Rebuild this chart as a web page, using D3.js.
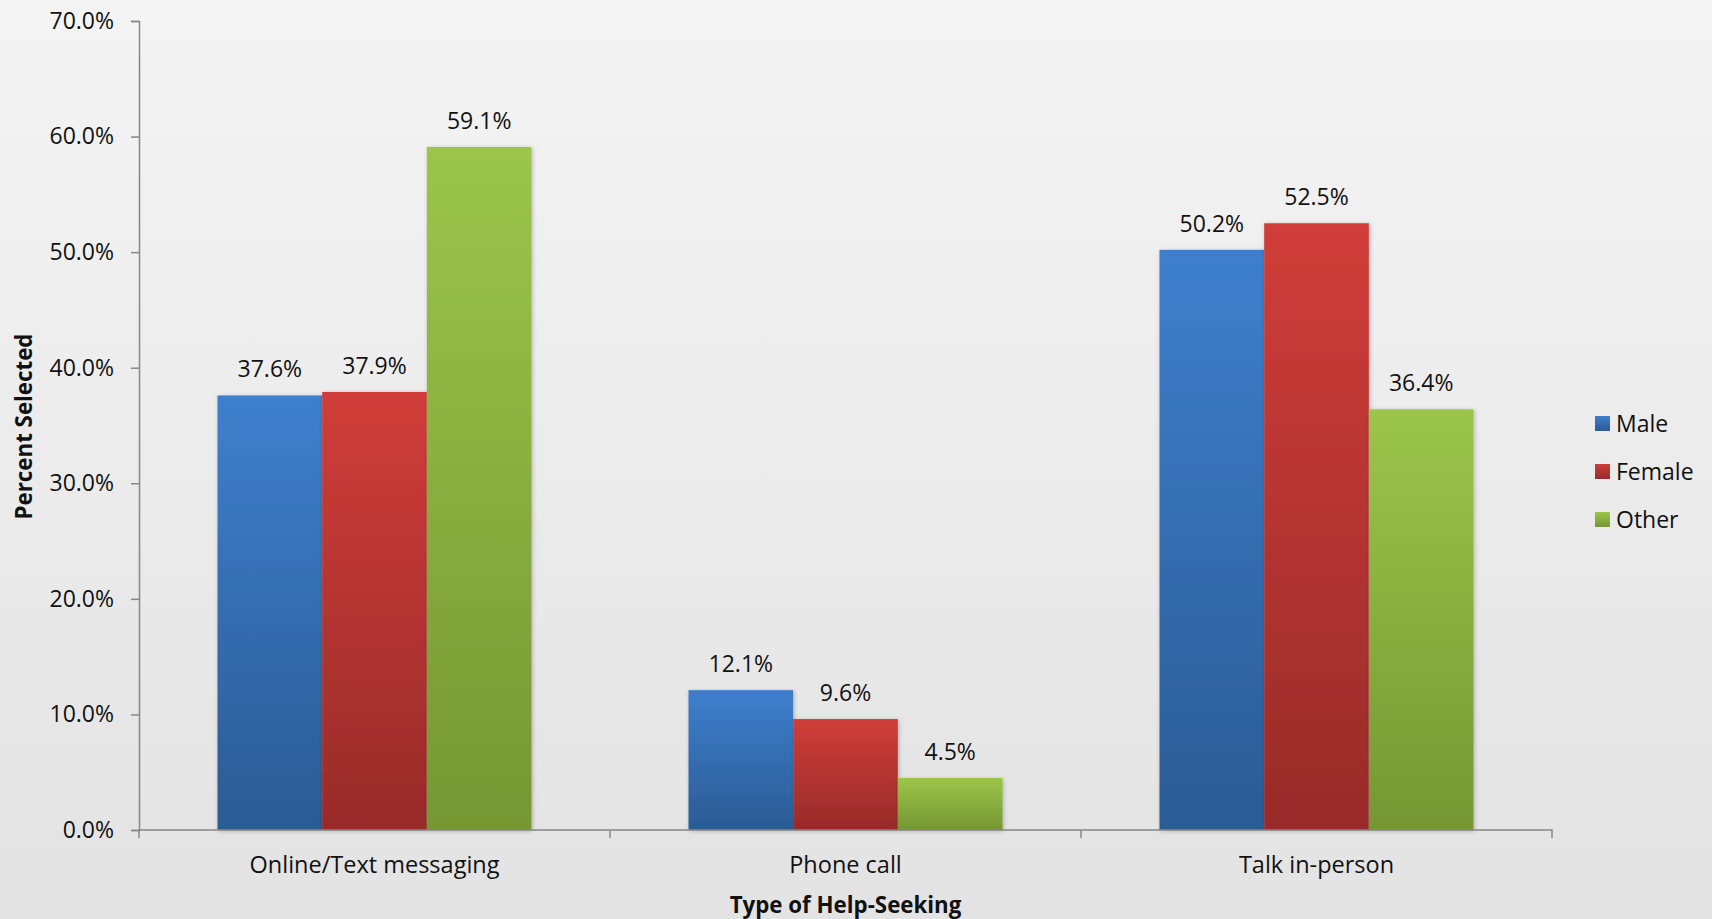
<!DOCTYPE html>
<html>
<head>
<meta charset="utf-8">
<script src="https://cdn.jsdelivr.net/npm/d3@7"></script>
<style>
  html, body { margin: 0; padding: 0; background: #ebeaeb; }
  svg { display: block; font-family: "Open Sans", "Noto Sans", sans-serif; }
</style>
</head>
<body>
<svg id="chart" width="1712" height="919"></svg>
<script>
// Help-seeking preferences by gender
const categories = ["Online/Text messaging", "Phone call", "Talk in-person"];
const seriesNames = ["Male", "Female", "Other"];
const maleValues = [37.6, 12.1, 50.2];
const femaleValues = [37.9, 9.6, 52.5];
const otherValues = [59.1, 4.5, 36.4];
const yTicks = [0, 10, 20, 30, 40, 50, 60, 70];

const seriesValues = [maleValues, femaleValues, otherValues];
const palette = {
  Male:   ["#3e7fcd", "#2b5b94"],
  Female: ["#d03d3a", "#982b29"],
  Other:  ["#9cc54b", "#759733"]
};

const W = 1712, H = 919;
const margin = { left: 139, right: 160, top: 21, bottom: 89 };
const svg = d3.select("#chart");
const defs = svg.append("defs");

// background gradient
const bg = defs.append("linearGradient").attr("id", "bg").attr("x1", 0).attr("y1", 0).attr("x2", 0).attr("y2", 1);
bg.append("stop").attr("offset", "0%").attr("stop-color", "#f4f4f4");
bg.append("stop").attr("offset", "100%").attr("stop-color", "#e4e3e4");
svg.append("rect").attr("width", W).attr("height", H).attr("fill", "url(#bg)");

seriesNames.forEach(name => {
  const g = defs.append("linearGradient").attr("id", "grad-" + name)
    .attr("x1", 0).attr("y1", 0).attr("x2", 0).attr("y2", 1);
  g.append("stop").attr("offset", "0%").attr("stop-color", palette[name][0]);
  g.append("stop").attr("offset", "100%").attr("stop-color", palette[name][1]);
});

const shadow = defs.append("filter").attr("id", "shadow")
  .attr("x", "-10%").attr("y", "-10%").attr("width", "130%").attr("height", "120%");
shadow.append("feDropShadow").attr("dx", 1).attr("dy", 1).attr("stdDeviation", 2)
  .attr("flood-color", "#000").attr("flood-opacity", 0.25);

const plotW = W - margin.left - margin.right;
const plotH = H - margin.top - margin.bottom;
const plot = svg.append("g").attr("transform", `translate(${margin.left},${margin.top})`);

const x0 = d3.scaleBand().domain(categories).range([0, plotW]).paddingInner(0).paddingOuter(0);
// each category band holds 3 bars plus a gap of 1.5 bars
const x1 = d3.scaleBand().domain(seriesNames)
  .range([x0.bandwidth() * 0.75 / 4.5, x0.bandwidth() - x0.bandwidth() * 0.75 / 4.5]).padding(0);
const y = d3.scaleLinear().domain([0, 70]).range([plotH, 0]);

// bars
const groups = plot.selectAll(".grp").data(categories).join("g")
  .attr("class", "grp").attr("transform", d => `translate(${x0(d)},0)`);

groups.each(function(cat, ci) {
  const g = d3.select(this);
  const rows = seriesNames.map((s, si) => ({ s, v: seriesValues[si][ci] }));
  g.selectAll("rect").data(rows).join("rect")
    .attr("x", d => x1(d.s))
    .attr("y", d => y(d.v))
    .attr("width", x1.bandwidth())
    .attr("height", d => y(0) - y(d.v))
    .attr("fill", d => `url(#grad-${d.s})`)
    .attr("filter", "url(#shadow)");
  g.selectAll("text").data(rows).join("text")
    .attr("x", d => x1(d.s) + x1.bandwidth() / 2)
    .attr("y", d => y(d.v) - 18)
    .attr("text-anchor", "middle")
    .attr("font-size", 23)
    .attr("fill", "#111")
    .text(d => d.v.toFixed(1) + "%");
});

// y axis
const yAxis = d3.axisLeft(y).tickValues(yTicks).tickSize(8).tickPadding(17)
  .tickFormat(d => d.toFixed(1) + "%");
const ya = plot.append("g").call(yAxis);
ya.select(".domain").attr("stroke", "#878787").attr("stroke-width", 1.5);
ya.selectAll(".tick line").attr("stroke", "#878787").attr("stroke-width", 1.5);
ya.selectAll(".tick text").attr("font-size", 23).attr("fill", "#111")
  .attr("font-family", "Open Sans, sans-serif");

// x axis
const xAxis = d3.axisBottom(x0).tickSize(0).tickPadding(0);
const xa = plot.append("g").attr("transform", `translate(0,${plotH})`).call(xAxis);
xa.select(".domain").attr("stroke", "#878787").attr("stroke-width", 1.5)
  .attr("d", `M0,8V0H${plotW}V8`);
xa.selectAll(".tick text").attr("font-size", 23.5).attr("fill", "#111")
  .attr("font-family", "Open Sans, sans-serif").attr("dy", "0").attr("y", 43);
// category separators
plot.append("g").selectAll("line").data(categories.slice(1)).join("line")
  .attr("x1", d => x0(d)).attr("x2", d => x0(d))
  .attr("y1", plotH).attr("y2", plotH + 8)
  .attr("stroke", "#878787").attr("stroke-width", 1.5);

// axis titles
svg.append("text")
  .attr("x", margin.left + plotW / 2).attr("y", 913)
  .attr("text-anchor", "middle").attr("font-size", 22.3).attr("font-weight", "bold")
  .attr("fill", "#111").text("Type of Help-Seeking");
svg.append("text")
  .attr("transform", `translate(32,${margin.top + plotH / 2 + 1}) rotate(-90)`)
  .attr("text-anchor", "middle").attr("font-size", 22.3).attr("font-weight", "bold")
  .attr("fill", "#111").text("Percent Selected");

// legend
const legend = svg.append("g").attr("transform", "translate(1595,424)");
const li = legend.selectAll("g").data(seriesNames).join("g")
  .attr("transform", (d, i) => `translate(0,${i * 48})`);
li.append("rect").attr("x", 0).attr("y", -8).attr("width", 15).attr("height", 15)
  .attr("fill", d => `url(#grad-${d})`);
li.append("text").attr("x", 21).attr("y", 0).attr("dy", "0.35em")
  .attr("font-size", 23).attr("fill", "#111").text(d => d);
</script>
</body>
</html>
